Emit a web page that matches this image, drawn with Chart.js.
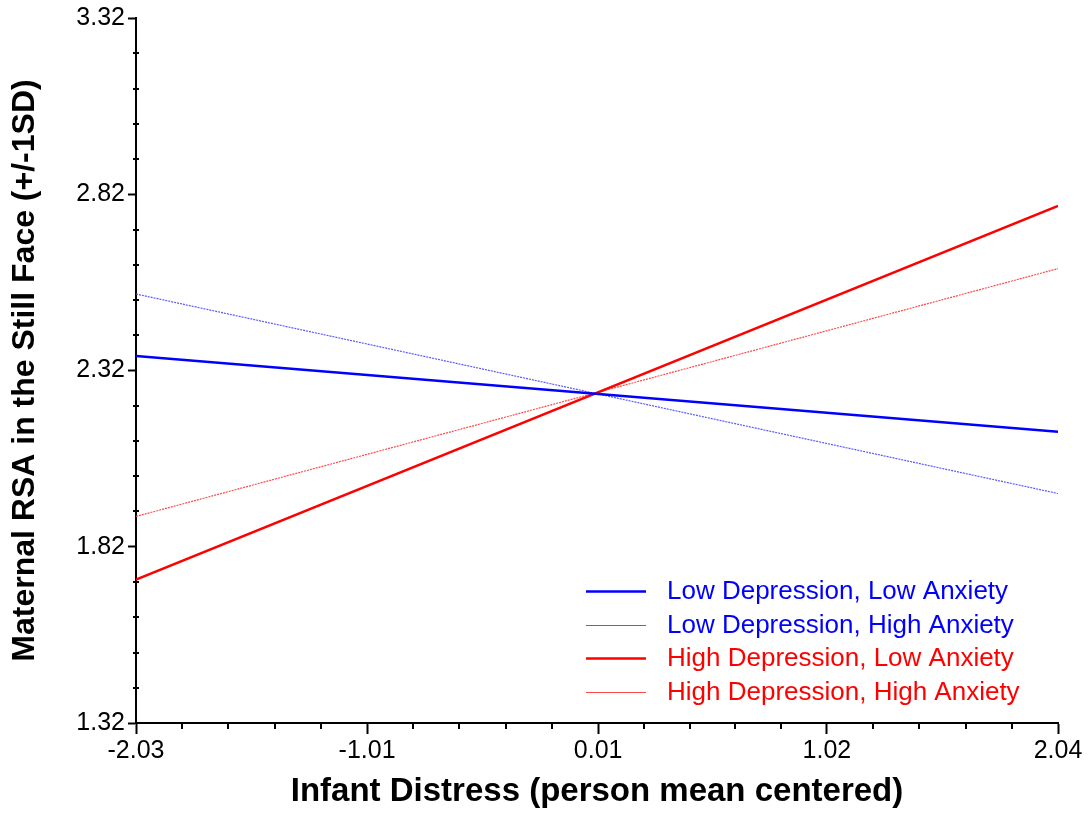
<!DOCTYPE html>
<html>
<head>
<meta charset="utf-8">
<script src="https://cdn.jsdelivr.net/npm/chart.js@4.4.1/dist/chart.umd.min.js"></script>
<style>
  html, body { margin: 0; padding: 0; background: #fff; }
  #wrap { width: 1089px; height: 816px; }
</style>
</head>
<body>
<div id="wrap"><canvas id="c" width="1089" height="816"></canvas></div>
<script>
// data
const xEnds = [-2.03, 2.04];
const xTicks = [-2.03, -1.01, 0.01, 1.02, 2.04];
const yTicks = [1.32, 1.82, 2.32, 2.82, 3.32];
const seriesNames = [
    "Low Depression, Low Anxiety",
    "Low Depression, High Anxiety",
    "High Depression, Low Anxiety",
    "High Depression, High Anxiety",
];
const lowDepLowAnx = [2.361, 2.146];
const lowDepHighAnx = [2.537, 1.971];
const highDepLowAnx = [1.727, 2.787];
const highDepHighAnx = [1.906, 2.609];

const FONT = "'Liberation Sans', Arial, sans-serif";
const pts = (ys) => ys.map((y, i) => ({ x: xEnds[i], y: y }));

// minor ticks: 4 between each pair of major ticks
const minorTicks = {
    id: "minorTicks",
    afterDraw(chart) {
        const c = chart.ctx;
        const xs = chart.scales.x, ys = chart.scales.y;
        const area = chart.chartArea;
        c.save();
        c.strokeStyle = "#000";
        c.lineWidth = 2;
        for (let i = 0; i < xTicks.length - 1; i++) {
            for (let k = 1; k < 5; k++) {
                const v = xTicks[i] + (xTicks[i + 1] - xTicks[i]) * k / 5;
                const px = Math.round(xs.getPixelForValue(v));
                c.beginPath();
                c.moveTo(px, area.bottom);
                c.lineTo(px, area.bottom + 6);
                c.stroke();
            }
        }
        for (let i = 0; i < yTicks.length - 1; i++) {
            for (let k = 1; k < 5; k++) {
                const v = yTicks[i] + (yTicks[i + 1] - yTicks[i]) * k / 5;
                const py = Math.round(ys.getPixelForValue(v));
                c.beginPath();
                c.moveTo(area.left - 3, py);
                c.lineTo(area.left + 3, py);
                c.stroke();
            }
        }
        c.restore();
    },
};

// legend drawn inside the plot, lower right
const innerLegend = {
    id: "innerLegend",
    afterDraw(chart) {
        const c = chart.ctx;
        const area = chart.chartArea;
        const lineX = area.right - 472;
        const textX = area.right - 391;
        const y0 = area.bottom - 132;
        c.save();
        c.font = "26px " + FONT;
        c.textBaseline = "middle";
        c.textAlign = "left";
        chart.data.datasets.forEach((ds, i) => {
            const y = Math.round(y0 + i * 33.5);
            c.strokeStyle = ds.borderColor;
            c.lineWidth = ds.borderWidth > 2 ? 2.5 : 1;
            c.beginPath();
            c.moveTo(lineX, y + 0.5);
            c.lineTo(lineX + 60, y + 0.5);
            c.stroke();
            c.fillStyle = ds.textColor;
            c.fillText(ds.label, textX, y + 1);
        });
        c.restore();
    },
};

const mkSet = (i, ys, color, text, thin) => ({
    label: seriesNames[i],
    data: pts(ys),
    borderColor: color,
    textColor: text,
    borderWidth: thin ? 1.2 : 2.5,
    borderDash: thin ? [2, 1] : [],
    pointRadius: 0,
    fill: false,
    tension: 0,
});

new Chart(document.getElementById("c").getContext("2d"), {
    type: "line",
    data: {
        datasets: [
            mkSet(0, lowDepLowAnx, "#0000ff", "#0000ff", false),
            mkSet(1, lowDepHighAnx, "#5a5aff", "#0000ff", true),
            mkSet(2, highDepLowAnx, "#ff0000", "#ff0000", false),
            mkSet(3, highDepHighAnx, "#ff4a4a", "#ff0000", true),
        ],
    },
    plugins: [minorTicks, innerLegend],
    options: {
        responsive: false,
        animation: false,
        layout: { padding: { top: 16, right: 31, left: 0, bottom: 0 } },
        plugins: { legend: { display: false }, tooltip: { enabled: false } },
        scales: {
            x: {
                type: "linear",
                min: -2.03,
                max: 2.04,
                afterBuildTicks: (s) => { s.ticks = xTicks.map((v) => ({ value: v })); },
                afterFit: (s) => { s.height = 93; },
                grid: { drawOnChartArea: false, tickLength: 11, tickWidth: 2, tickColor: "#000" },
                border: { color: "#000", width: 2 },
                ticks: {
                    color: "#000",
                    padding: 2,
                    maxRotation: 0,
                    font: { family: FONT, size: 25 },
                    callback: (v) => v.toFixed(2),
                },
                title: {
                    display: true,
                    text: "Infant Distress (person mean centered)",
                    color: "#000",
                    padding: { top: 0 },
                    font: { family: FONT, size: 33, weight: "bold" },
                },
            },
            y: {
                type: "linear",
                min: 1.32,
                max: 3.32,
                afterBuildTicks: (s) => { s.ticks = yTicks.map((v) => ({ value: v })); },
                afterFit: (s) => { s.width = 136; },
                grid: { drawOnChartArea: false, tickLength: 8, tickWidth: 2, tickColor: "#000" },
                border: { color: "#000", width: 2 },
                ticks: {
                    color: "#000",
                    padding: 3,
                    font: { family: FONT, size: 25 },
                    callback: (v) => v.toFixed(2),
                },
                title: {
                    display: true,
                    text: "Maternal RSA in the Still Face (+/-1SD)",
                    color: "#000",
                    padding: { top: 6 },
                    font: { family: FONT, size: 32, weight: "bold" },
                },
            },
        },
    },
});
</script>
</body>
</html>
